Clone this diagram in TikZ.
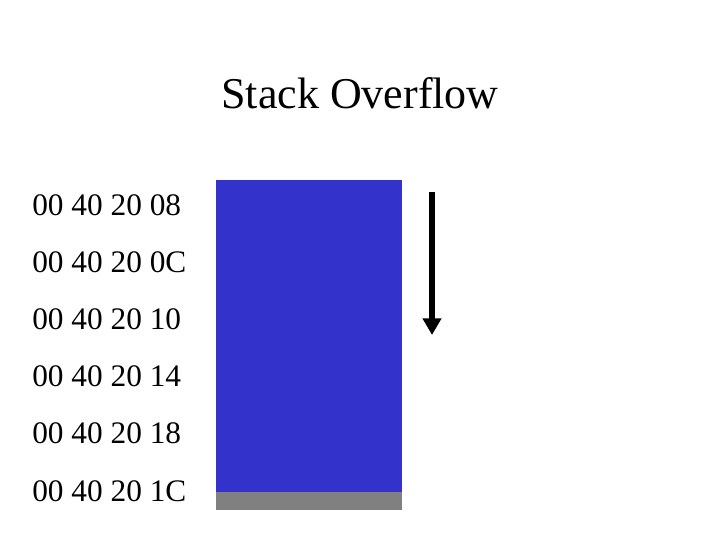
\documentclass[tikz,border=0pt]{standalone}
\usepackage{fontspec}
\setmainfont{Liberation Serif}
\usetikzlibrary{arrows.meta}

\definecolor{stackblue}{HTML}{3333CC}
\definecolor{stackgray}{HTML}{808080}

\begin{document}
\begin{tikzpicture}[
    x=0.75pt, y=-0.75pt,
    addr/.style={anchor=base west, inner sep=0pt, font=\fontsize{23.5}{28}\selectfont},
    arr/.style={-{Triangle[width=13.5pt, length=12.5pt]}, line width=4.5pt},
  ]
  \useasboundingbox (0,0) rectangle (720,540);

  % Title
  \node[anchor=base, inner sep=0pt, font=\fontsize{33}{38}\selectfont] (title) at (360,108) {Stack Overflow};

  % Stack body and bottom strip
  \fill[stackblue] (216,180) rectangle (402,492);
  \fill[stackgray] (216,492) rectangle (402,510);

  % Addresses
  \foreach \lbl [count=\i from 0] in {08,0C,10,14,18,1C}
    \node[addr] (a\i) at (32,215+57.2*\i) {00 40 20 \lbl};

  % Growth direction
  \coordinate (top) at (432,192);
  \coordinate (bot) at (432,335);
  \draw[arr] (top) -- (bot);
\end{tikzpicture}
\end{document}
